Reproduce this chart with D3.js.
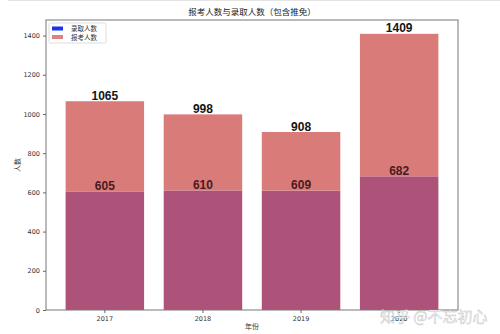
<!DOCTYPE html>
<html>
<head>
<meta charset="utf-8">
<script src="https://cdn.jsdelivr.net/npm/d3@7"></script>
<style>
  body { margin: 0; background: #fff; }
  svg { display: block; font-family: "Noto Sans CJK SC", "DejaVu Sans", sans-serif; }
</style>
</head>
<body>
<div id="chart"></div>
<script>
const width = 500;
const height = 334;

// data
const years = ['2017', '2018', '2019', '2020'];
const applicants = [1065, 998, 908, 1409];
const admitted = [605, 610, 609, 682];
const yTicks = [0, 200, 400, 600, 800, 1000, 1200, 1400];

const margin = { left: 46, right: 42, top: 20, bottom: 24 };
const plotRight = width - margin.right;
const plotBottom = height - margin.bottom;

const svg = d3.select('#chart').append('svg')
    .attr('width', width)
    .attr('height', height);

// thin grey line at the very top of the screenshot
svg.append('line')
    .attr('x1', 8).attr('x2', width)
    .attr('y1', 0.5).attr('y2', 0.5)
    .attr('stroke', '#e4e4e4');

const x = d3.scaleBand()
    .domain(years)
    .range([margin.left, plotRight])
    .paddingInner(0.2)
    .paddingOuter(0.2);

const y = d3.scaleLinear()
    .domain([0, d3.max(applicants) * 1.05])
    .range([plotBottom, margin.top]);

// admitted bars (underneath)
svg.append('g').selectAll('rect')
    .data(admitted)
    .enter()
    .append('rect')
    .attr('x', (d, i) => x(years[i]))
    .attr('y', d => y(d))
    .attr('width', x.bandwidth())
    .attr('height', d => y(0) - y(d))
    .attr('fill', '#ad5279');

// applicants bars, only the part above admitted shows pink
svg.append('g').selectAll('rect')
    .data(applicants)
    .enter()
    .append('rect')
    .attr('x', (d, i) => x(years[i]))
    .attr('y', d => y(d))
    .attr('width', x.bandwidth())
    .attr('height', (d, i) => y(admitted[i]) - y(d))
    .attr('fill', '#d97c79');

// value labels
function valueLabels(values, color) {
    svg.append('g').selectAll('text')
        .data(values)
        .enter()
        .append('text')
        .attr('x', (d, i) => x(years[i]) + x.bandwidth() / 2)
        .attr('y', d => y(d) - 1.5)
        .attr('text-anchor', 'middle')
        .attr('font-family', 'Liberation Sans, Arial, sans-serif')
        .attr('font-weight', 'bold')
        .attr('font-size', 12)
        .attr('fill', color)
        .text(d => d);
}
valueLabels(applicants, '#151515');
valueLabels(admitted, '#4a1a22');

// frame
svg.append('rect')
    .attr('x', margin.left)
    .attr('y', margin.top)
    .attr('width', plotRight - margin.left)
    .attr('height', plotBottom - margin.top)
    .attr('fill', 'none')
    .attr('stroke', '#777')
    .attr('stroke-width', 1);

// axes
const yAxis = svg.append('g')
    .attr('transform', `translate(${margin.left},0)`)
    .call(d3.axisLeft(y).tickValues(yTicks).tickFormat(d3.format('d')).tickSize(3).tickPadding(3));
const xAxis = svg.append('g')
    .attr('transform', `translate(0,${plotBottom})`)
    .call(d3.axisBottom(x).tickSize(3).tickPadding(3));

[yAxis, xAxis].forEach(ax => {
    ax.select('.domain').remove();
    ax.selectAll('line').attr('stroke', '#666');
    ax.selectAll('text')
        .attr('font-size', 6.5)
        .attr('font-family', 'DejaVu Sans, sans-serif')
        .attr('fill', '#333');
});

// title and axis labels
svg.append('text')
    .attr('x', (margin.left + plotRight) / 2)
    .attr('y', 15)
    .attr('text-anchor', 'middle')
    .attr('font-size', 8.5)
    .attr('fill', '#222')
    .text('报考人数与录取人数（包含推免）');

svg.append('text')
    .attr('x', (margin.left + plotRight) / 2)
    .attr('y', 329)
    .attr('text-anchor', 'middle')
    .attr('font-size', 7)
    .attr('fill', '#333')
    .text('年份');

svg.append('text')
    .attr('transform', `translate(20,${(margin.top + plotBottom) / 2}) rotate(-90)`)
    .attr('text-anchor', 'middle')
    .attr('font-size', 7)
    .attr('fill', '#333')
    .text('人数');

// legend
const legendItems = [
    { label: '录取人数', color: '#1a33f0' },
    { label: '报考人数', color: '#dd8282' }
];
const legend = svg.append('g').attr('transform', 'translate(49,23)');
legend.append('rect')
    .attr('width', 57).attr('height', 20)
    .attr('fill', '#fff')
    .attr('stroke', '#ddd')
    .attr('rx', 1.5);
legendItems.forEach((item, i) => {
    legend.append('rect')
        .attr('x', 3).attr('y', 3.5 + i * 8.5)
        .attr('width', 11).attr('height', 4)
        .attr('fill', item.color);
    legend.append('text')
        .attr('x', 22).attr('y', 8 + i * 8.5)
        .attr('font-size', 6.5)
        .attr('fill', '#333')
        .text(item.label);
});

// watermark
svg.append('text')
    .attr('x', 380)
    .attr('y', 322)
    .attr('font-size', 15)
    .attr('fill', 'rgba(255,255,255,0.85)')
    .attr('stroke', 'rgba(150,150,150,0.6)')
    .attr('stroke-width', 0.5)
    .text('知乎 @不忘初心');
</script>
</body>
</html>
